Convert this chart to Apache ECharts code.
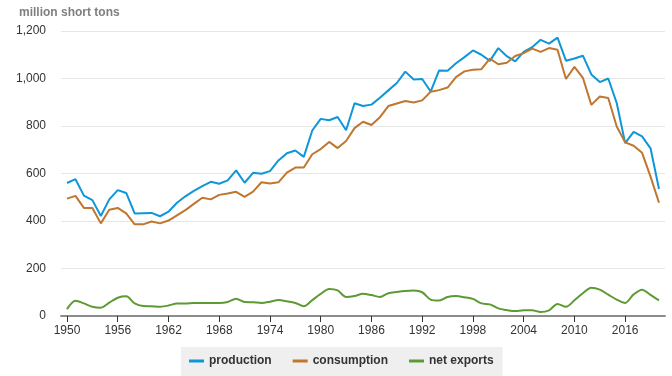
<!DOCTYPE html>
<html>
<head>
<meta charset="utf-8">
<script src="https://cdn.jsdelivr.net/npm/echarts@6/dist/echarts.min.js"></script>
<style>
html,body{margin:0;padding:0;background:#fff;}
#c{width:672px;height:376px;}
</style>
</head>
<body>
<div id="c"></div>
<script>
const years = [];
for (let y = 1950; y <= 2020; y++) years.push(y);

const production = [560,576,507,488,421,491,530,518,432,433,434,420,439,477,504,527,547,565,557,571,613,561,603,599,610,655,685,697,670,781,830,824,838,782,896,884,890,919,950,981,1029,996,998,945,1034,1033,1064,1090,1118,1100,1074,1128,1094,1072,1112,1132,1163,1147,1172,1075,1084,1096,1017,985,1000,897,728,775,756,706,535];

const consumption = [494,506,455,455,390,447,455,432,386,386,398,390,402,424,446,472,498,491,510,516,523,502,524,563,558,563,604,625,625,681,703,733,707,737,791,818,804,837,884,895,905,899,908,944,951,962,1006,1030,1037,1039,1084,1060,1066,1095,1107,1126,1112,1128,1121,998,1049,1003,889,924,918,798,731,717,687,587,477];

const netExports = [29,64,53,39,35,56,77,83,53,42,41,39,44,53,53,55,55,55,55,59,73,59,58,55,60,67,62,55,41,67,93,114,108,80,84,94,88,80,96,101,105,107,100,69,65,80,84,79,72,53,49,32,25,21,24,24,17,24,51,39,66,96,119,111,90,69,55,91,111,89,66];

const xTicks = [1950,1956,1962,1968,1974,1980,1986,1992,1998,2004,2010,2016];
const yTicks = [0,200,400,600,800,1000,1200];

const pair = arr => years.map((y, i) => [y, arr[i]]);
const FONT = "'Liberation Sans', Arial, sans-serif";

const chart = echarts.init(document.getElementById('c'), null, {renderer: 'canvas'});
chart.setOption({
  animation: false,
  textStyle: {fontFamily: FONT},
  title: {
    text: 'million short tons',
    left: 19, top: 7, padding: 0,
    textStyle: {fontSize: 12, fontWeight: 'bold', color: '#7f7f7f', fontFamily: FONT}
  },
  grid: {left: 61, right: 7, top: 31, bottom: 60, containLabel: false},
  xAxis: {
    type: 'value',
    min: 1949.29, max: 2020.71,
    splitLine: {show: false},
    axisLine: {show: true, lineStyle: {color: '#8c8c8c', width: 2}},
    axisTick: {show: true, customValues: xTicks, length: 6, lineStyle: {color: '#333', width: 1}},
    axisLabel: {customValues: xTicks, color: '#333', fontSize: 12, margin: 9, fontFamily: FONT,
      formatter: v => String(v)}
  },
  yAxis: {
    type: 'value',
    min: 0, max: 1200, interval: 200,
    axisLine: {show: false},
    axisTick: {show: false},
    splitLine: {show: true, lineStyle: {color: '#e6e6e6', width: 1}},
    axisLabel: {color: '#333', fontSize: 12, margin: 15, fontFamily: FONT,
      customValues: yTicks,
      formatter: v => v.toLocaleString('en-US')}
  },
  legend: {
    left: 181, top: 347,
    padding: [8, 9, 10, 8],
    backgroundColor: '#efefef',
    icon: 'rect',
    itemWidth: 15, itemHeight: 3, itemGap: 21,
    textStyle: {fontSize: 12, fontWeight: 'bold', color: '#333', fontFamily: FONT, lineHeight: 12},
    data: ['production', 'consumption', 'net exports']
  },
  series: [
    {name: 'production', type: 'line', data: pair(production), showSymbol: false, symbol: 'none',
      color: '#0f96d8', lineStyle: {width: 2, color: '#0f96d8'}},
    {name: 'consumption', type: 'line', data: pair(consumption), showSymbol: false, symbol: 'none',
      color: '#bf7630', lineStyle: {width: 2, color: '#bf7630'}},
    {name: 'net exports', type: 'line', data: pair(netExports), showSymbol: false, symbol: 'none', smooth: 0.3,
      color: '#5d9a33', lineStyle: {width: 2, color: '#5d9a33'}}
  ]
});
</script>
</body>
</html>
